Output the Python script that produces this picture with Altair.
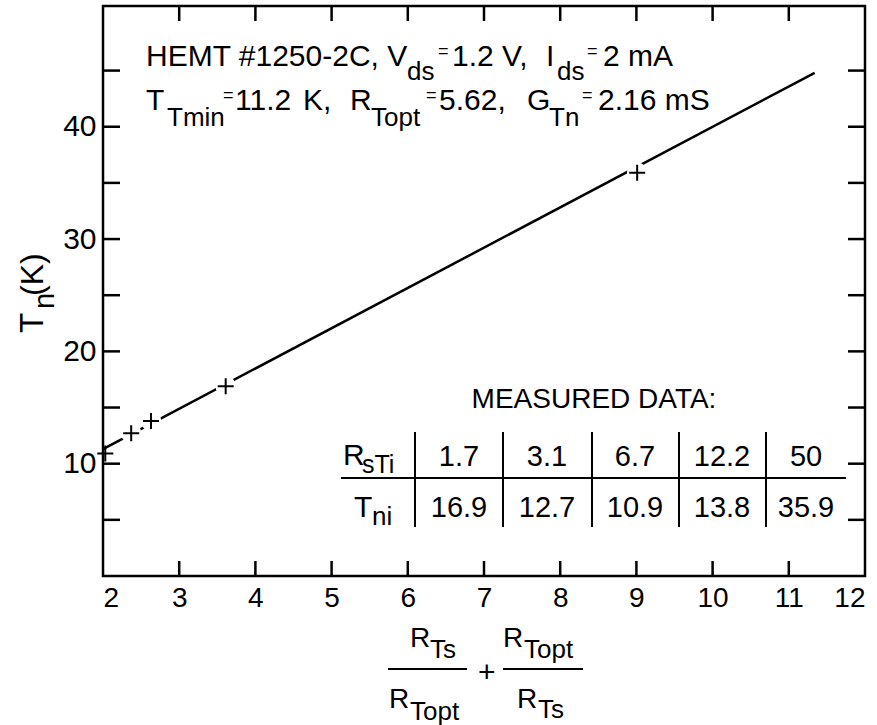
import altair as alt
import pandas as pd

# ---------------- data ----------------
rs_ti = [1.7, 3.1, 6.7, 12.2, 50]          # source resistance R_sTi
t_ni = [16.9, 12.7, 10.9, 13.8, 35.9]      # measured noise temperature T_ni (K)
x_meas = [3.61, 2.37, 2.03, 2.63, 9.01]    # R_Ts/R_Topt + R_Topt/R_Ts
fit_x = [2.0, 11.34]                       # fitted straight line
fit_t = [11.3, 44.8]
x_tick_vals = [3, 4, 5, 6, 7, 8, 9, 10, 11]
y_tick_vals = [5, 10, 15, 20, 25, 30, 35, 40, 45]
x_label_vals = [2, 3, 4, 5, 6, 7, 8, 9, 10, 11, 12]
y_label_vals = [10, 20, 30, 40]

# ---------------- layout ----------------
PL, PT, W, H = 103, 6, 762, 570
X0, X1, Y0, Y1 = 2.0, 12.0, 0.0, 50.75
FONT = "Liberation Sans"


def dx(px):
    return X0 + (px - PL) * (X1 - X0) / W


def dy(py):
    return Y1 - (py - PT) * (Y1 - Y0) / H


xs = alt.Scale(domain=[X0, X1], nice=False, zero=False)
ys = alt.Scale(domain=[Y0, Y1], nice=False, zero=False)


def X(f="x"):
    return alt.X(f + ":Q", scale=xs, title=None)


def Y(f="y"):
    return alt.Y(f + ":Q", scale=ys, title=None)


# ---------------- main line with axes ----------------
fit_df = pd.DataFrame({"x": fit_x, "y": fit_t})
line = alt.Chart(fit_df).mark_line(color="black", strokeWidth=2.5).encode(
    x=alt.X("x:Q", scale=xs, title=None,
            axis=alt.Axis(values=x_label_vals, ticks=False, domain=False, grid=False,
                          labelFontSize=28, labelFont=FONT, labelColor="black",
                          labelPadding=8, format="d")),
    y=alt.Y("y:Q", scale=ys, title=None,
            axis=alt.Axis(values=y_label_vals, ticks=False, domain=False, grid=False,
                          labelFontSize=30, labelFont=FONT, labelColor="black",
                          labelPadding=7, format="d")),
)

# ---------------- inward ticks ----------------
LY = 15 * (Y1 - Y0) / H
LX = 17 * (X1 - X0) / W
rows = []
for t in x_tick_vals:
    rows.append({"x": t, "x2": t, "y": Y0, "y2": Y0 + LY})
    rows.append({"x": t, "x2": t, "y": Y1 - LY, "y2": Y1})
for v in y_tick_vals:
    rows.append({"x": X0, "x2": X0 + LX, "y": v, "y2": v})
    rows.append({"x": X1 - LX, "x2": X1, "y": v, "y2": v})
ticks = alt.Chart(pd.DataFrame(rows)).mark_rule(color="black", strokeWidth=2.5).encode(
    x=X(), x2="x2:Q", y=Y(), y2="y2:Q")

# ---------------- measured points ----------------
pts = pd.DataFrame({"x": x_meas, "y": t_ni})
mask = alt.Chart(pts).transform_filter("datum.x > 2.1").mark_point(
    shape="circle", filled=True, color="white", opacity=1, size=420, strokeWidth=0
).encode(x=X(), y=Y())
cross = alt.Chart(pts).mark_point(
    shape="M-1,0L1,0M0,-1L0,1", filled=False, color="black", opacity=1,
    strokeWidth=2, size=256
).encode(x=X(), y=Y())

# ---------------- annotation text ----------------
# (text, left px, baseline px, font size)
left_txt = [
    ("HEMT #1250-2C, V", 146, 66, 30), ("ds", 407, 80, 26), ("=", 438, 57, 18),
    ("1.2 V,", 452, 66, 30), ("I", 546, 66, 30), ("ds", 557, 80, 26),
    ("=", 587, 57, 18), ("2 mA", 603, 66, 30),
    ("T", 146, 110, 30), ("Tmin", 167, 126, 26), ("=", 223, 101, 18),
    ("11.2", 235, 110, 30), ("K,", 303, 110, 30), ("R", 350, 110, 30),
    ("Topt", 371, 126, 26), ("=", 426, 101, 18), ("5.62,", 439, 110, 30),
    ("G", 527, 110, 30), ("Tn", 549, 126, 26), ("=", 582, 101, 18),
    ("2.16 mS", 598, 110, 30),
    # table row headers
    ("R", 343, 465, 30), ("sTi", 362, 473, 25),
    ("T", 354, 517, 30), ("ni", 372, 525, 26),
    # x-axis title (fraction)
    ("R", 410, 647, 28), ("Ts", 430, 658, 26),
    ("R", 389, 708, 28), ("Topt", 410, 720, 26),
    ("+", 478, 682, 30),
    ("R", 503, 647, 28), ("Topt", 524, 658, 26),
    ("R", 517, 708, 28), ("Ts", 538, 718, 26),
]
left_df = pd.DataFrame({
    "x": [dx(t[1]) for t in left_txt], "y": [dy(t[2]) for t in left_txt],
    "text": [t[0] for t in left_txt], "fs": [t[3] for t in left_txt]})
left_layer = alt.Chart(left_df).mark_text(
    align="left", baseline="alphabetic", font=FONT, color="black"
).encode(x=X(), y=Y(), text="text:N", size=alt.Size("fs:Q", scale=None, legend=None))

# centred table cells
col_px = [459, 547, 635, 722, 806]
center_rows = [("MEASURED DATA:", 594, 408, 28)]
for i, v in enumerate(rs_ti):
    center_rows.append((str(v), col_px[i], 466, 29))
for i, v in enumerate(t_ni):
    center_rows.append((str(v), col_px[i], 517, 29))
center_df = pd.DataFrame({
    "x": [dx(t[1]) for t in center_rows], "y": [dy(t[2]) for t in center_rows],
    "text": [t[0] for t in center_rows], "fs": [t[3] for t in center_rows]})
center_layer = alt.Chart(center_df).mark_text(
    align="center", baseline="alphabetic", font=FONT, color="black"
).encode(x=X(), y=Y(), text="text:N", size=alt.Size("fs:Q", scale=None, legend=None))

# rotated y-axis title  T_n(K)
ytitle = [("T", 43, 333, 33), ("n", 54, 309, 29), ("(K)", 43, 296, 32)]
yt_df = pd.DataFrame({
    "x": [dx(t[1]) for t in ytitle], "y": [dy(t[2]) for t in ytitle],
    "text": [t[0] for t in ytitle], "fs": [t[3] for t in ytitle]})
yt_layer = alt.Chart(yt_df).mark_text(
    align="left", baseline="alphabetic", font=FONT, color="black", angle=270
).encode(x=X(), y=Y(), text="text:N", size=alt.Size("fs:Q", scale=None, legend=None))

# table grid lines and fraction bars (x1, x2, y1, y2 in px)
seg_px = [(341, 846, 478, 478)]
for c in [415, 503, 592, 679, 766]:
    seg_px.append((c, c, 432, 527))
seg_px += [(388, 467, 669, 669), (503, 583, 669, 669)]
seg_df = pd.DataFrame({
    "x": [dx(s[0]) for s in seg_px], "x2": [dx(s[1]) for s in seg_px],
    "y": [dy(s[2]) for s in seg_px], "y2": [dy(s[3]) for s in seg_px]})
segs = alt.Chart(seg_df).mark_rule(color="black", strokeWidth=2).encode(
    x=X(), x2="x2:Q", y=Y(), y2="y2:Q")

chart = alt.layer(
    line, ticks, mask, cross, segs, left_layer, center_layer, yt_layer
).properties(
    width=W, height=H,
    padding={"left": PL, "top": PT, "right": 877 - PL - W, "bottom": 725 - PT - H},
    autosize=alt.AutoSizeParams(type="none"),
    background="white",
).configure_view(stroke="black", strokeWidth=2.5)

chart.save("out.html", embed_options={"renderer": "svg", "actions": False})
